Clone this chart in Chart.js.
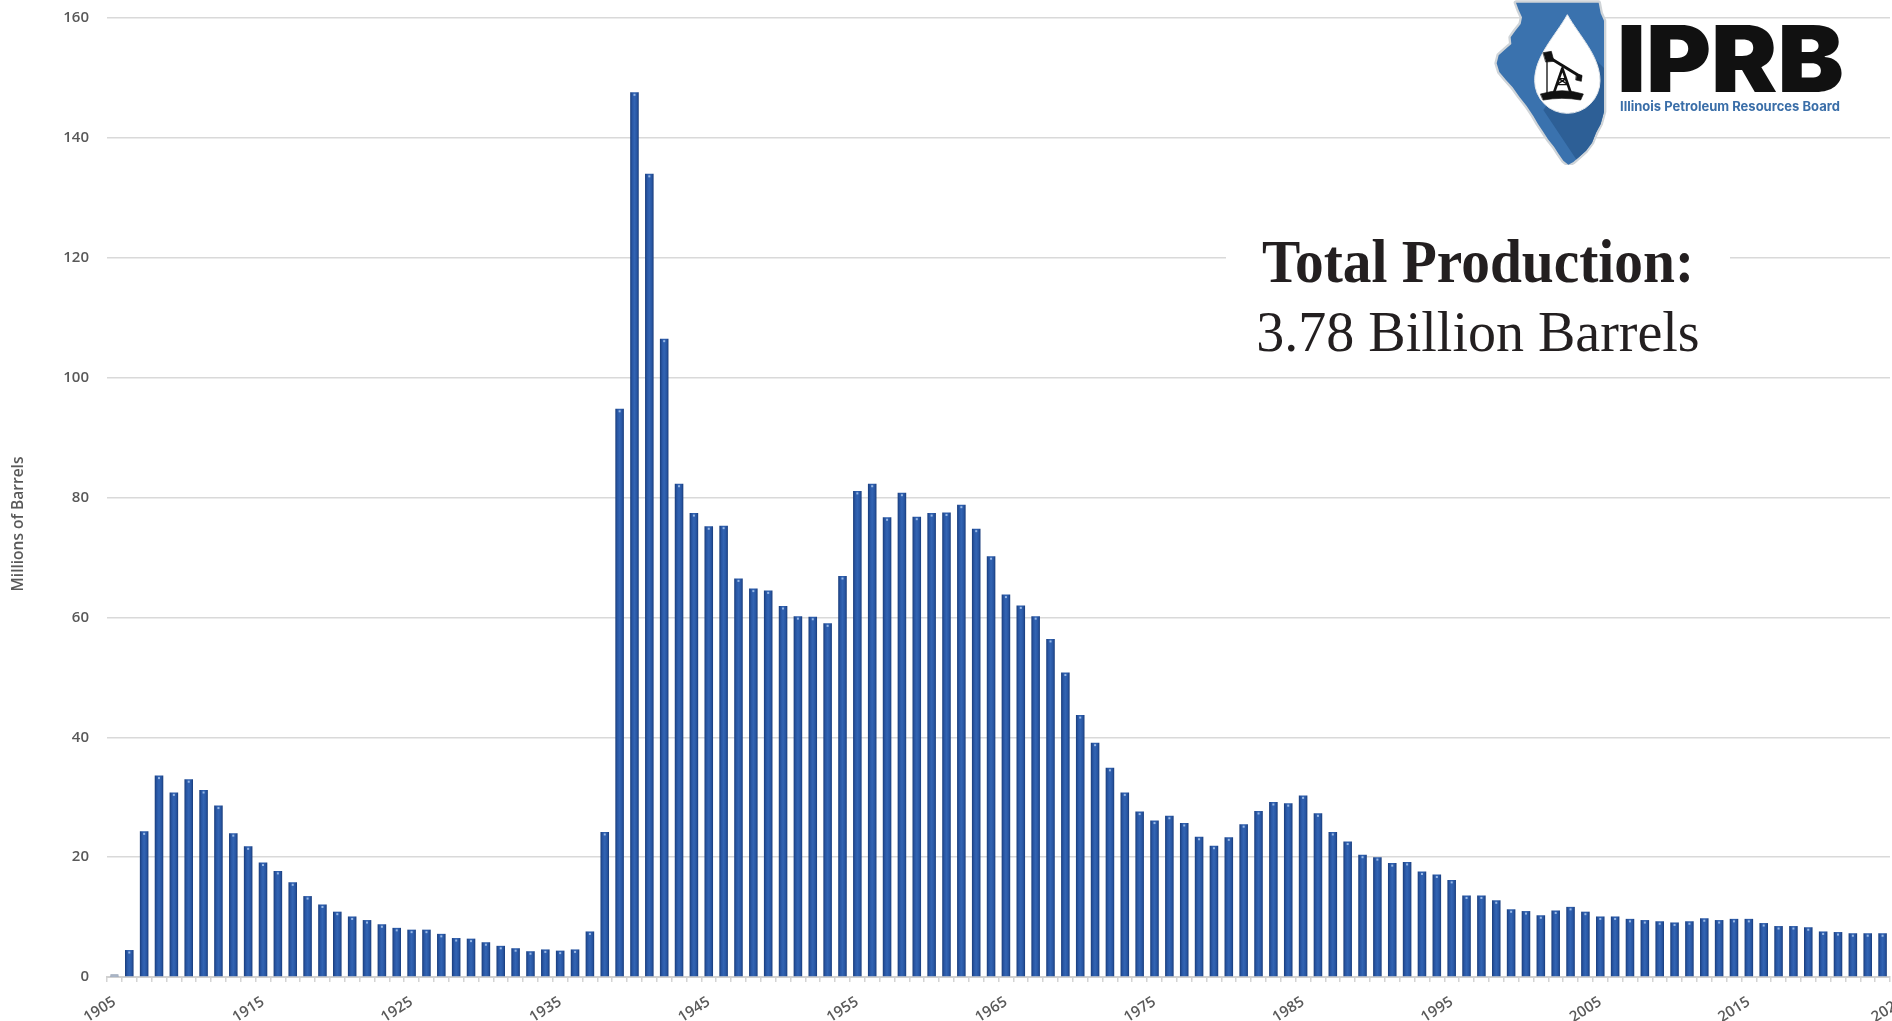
<!DOCTYPE html>
<html>
<head>
<meta charset="utf-8">
<script src="https://cdn.jsdelivr.net/npm/chart.js@4.4.1/dist/chart.umd.min.js"></script>
<style>
html,body{margin:0;padding:0;background:#fff;overflow:hidden}
#wrap{position:relative;width:1892px;height:1021px}
#c{display:block;width:1892px;height:1021px}
#logo{position:absolute;left:1480px;top:0;width:140px;height:165px}
</style>
</head>
<body>
<div id="wrap">
<canvas id="c" width="1892" height="1021"></canvas>
<svg id="logo" viewBox="0 0 420 495" xmlns="http://www.w3.org/2000/svg">
  <defs>
    <clipPath id="ilclip">
      <path id="ilpath" d="M108,8 L356,8 L362,40 L372,62 L372,335 L362,372 L348,398 L336,428 L318,452 L298,470 L280,486 L265,494 L250,482 L236,462 L222,440 L204,418 L190,396 L174,372 L160,348 L140,318 L118,290 L98,262 L78,240 L58,216 L50,190 L56,166 L76,148 L94,132 L92,112 L106,92 L122,72 L126,52 L116,30 Z"/>
    </clipPath>
  </defs>
  <use href="#ilpath" fill="none" stroke="#cfd4d8" stroke-width="14" stroke-linejoin="round"/>
  <use href="#ilpath" fill="#3a72ae"/>
  <g clip-path="url(#ilclip)">
    <path d="M318,150 L420,252 L420,495 L300,495 L190,330 Z" fill="#2d5f96"/>
  </g>
  <path d="M262,44 C298,108 360,168 360,242 A98,98 0 1 1 164,242 C164,168 226,108 262,44 Z" fill="#ffffff" stroke="#e4e8ec" stroke-width="3"/>
  <g fill="#111" stroke="#111" stroke-linecap="round" stroke-linejoin="round">
    <path d="M182,282 Q246,262 310,282 L302,300 Q246,290 190,300 Z" stroke-width="2"/>
    <path d="M222,278 L247,205 L272,278" fill="none" stroke-width="8"/>
    <path d="M230,254 L264,254 M236,236 L258,236 M230,254 L258,236 M264,254 L236,236" fill="none" stroke-width="4"/>
    <path d="M204,170 L302,230" fill="none" stroke-width="9"/>
    <path d="M190,158 L214,154 L222,184 L198,186 Z" stroke-width="2"/>
    <path d="M201,186 L201,282" fill="none" stroke-width="4"/>
    <path d="M290,222 L306,226 L304,244 L288,240 Z" stroke-width="2"/>
  </g>
</svg>
</div>
<script>
const years = ['1905','1906','1907','1908','1909','1910','1911','1912','1913','1914',
'1915','1916','1917','1918','1919','1920','1921','1922','1923','1924',
'1925','1926','1927','1928','1929','1930','1931','1932','1933','1934',
'1935','1936','1937','1938','1939','1940','1941','1942','1943','1944',
'1945','1946','1947','1948','1949','1950','1951','1952','1953','1954',
'1955','1956','1957','1958','1959','1960','1961','1962','1963','1964',
'1965','1966','1967','1968','1969','1970','1971','1972','1973','1974',
'1975','1976','1977','1978','1979','1980','1981','1982','1983','1984',
'1985','1986','1987','1988','1989','1990','1991','1992','1993','1994',
'1995','1996','1997','1998','1999','2000','2001','2002','2003','2004',
'2005','2006','2007','2008','2009','2010','2011','2012','2013','2014',
'2015','2016','2017','2018','2019','2020','2021','2022','2023','2024'];

// Millions of barrels per year
const production = [0.2,4.5,24.3,33.6,30.8,33.0,31.2,28.6,24.0,21.8,
19.1,17.7,15.8,13.5,12.1,10.9,10.1,9.5,8.8,8.2,
7.9,7.9,7.2,6.5,6.4,5.8,5.2,4.8,4.3,4.6,
4.4,4.6,7.6,24.2,94.8,147.6,134.0,106.5,82.3,77.4,
75.2,75.3,66.5,64.8,64.5,61.9,60.2,60.1,59.0,66.9,
81.1,82.3,76.7,80.8,76.8,77.4,77.5,78.8,74.8,70.2,
63.8,62.0,60.2,56.4,50.8,43.7,39.1,34.9,30.8,27.6,
26.1,26.9,25.7,23.4,21.9,23.3,25.5,27.7,29.2,29.0,
30.3,27.3,24.2,22.6,20.4,20.0,19.0,19.2,17.6,17.1,
16.2,13.6,13.6,12.8,11.3,11.0,10.3,11.1,11.7,10.9,
10.1,10.1,9.7,9.5,9.3,9.1,9.3,9.8,9.5,9.7,
9.7,9.0,8.5,8.5,8.3,7.6,7.5,7.3,7.3,7.3];

const tickLabels = ['1905','1915','1925','1935','1945','1955','1965','1975','1985','1995','2005','2015','2025'];
const yTicks = [0,20,40,60,80,100,120,140,160];
const yTitle = 'Millions of Barrels';
const headline = 'Total Production:';
const subline = '3.78 Billion Barrels';
const logoText = 'IPRB';
const logoSub = 'Illinois Petroleum Resources Board';

const BAR_PCT = 0.72, CAT_PCT = 0.8;
const TICK_FONT = {family:'"Open Sans", "Noto Sans", sans-serif', size:15, weight:'600'};
const TICK_COLOR = '#595959';
const X_ROT = 32, X_TICKLEN = 5, X_PAD = 11;

function barFill(ctx){
  const chart = ctx.chart;
  const xs = chart.scales && chart.scales.x;
  if (!xs || ctx.dataIndex === undefined || !chart.chartArea) return '#2a5aa8';
  const cx = xs.getPixelForValue(ctx.dataIndex);
  const w = (xs.width / years.length) * BAR_PCT * CAT_PCT;
  const g = chart.ctx.createLinearGradient(cx - w/2, 0, cx + w/2, 0);
  g.addColorStop(0, '#193c7a');
  g.addColorStop(0.25, '#2957a5');
  g.addColorStop(0.5, '#3264b3');
  g.addColorStop(0.78, '#2856a3');
  g.addColorStop(1, '#193c7a');
  return g;
}

const decor = {
  id:'decor',
  beforeDatasetsDraw(chart){
    const c = chart.ctx;
    c.save();
    c.fillStyle = '#ffffff';
    c.fillRect(1226, 226, 504, 138);
    c.restore();
  },
  afterDatasetsDraw(chart){
    const c = chart.ctx;
    const meta = chart.getDatasetMeta(0);
    c.save();
    c.fillStyle = 'rgba(170,200,240,0.85)';
    meta.data.forEach(el => {
      if (el.base - el.y > 4) c.fillRect(el.x - 1, el.y + 1.5, 2, 2);
      else if (el.base - el.y > 0) { c.fillStyle = '#9aa6b8'; c.fillRect(el.x - 4, el.base - 2, 8, 1.5); c.fillStyle = 'rgba(170,200,240,0.85)'; }
    });
    c.restore();
  },
  afterDraw(chart){
    const c = chart.ctx;
    const xs = chart.scales.x;
    c.save();
    // extra decade label beyond the last category (cut by the edge)
    c.font = TICK_FONT.weight + ' ' + TICK_FONT.size + 'px ' + TICK_FONT.family;
    c.fillStyle = TICK_COLOR;
    const lh = TICK_FONT.size * 1.2;
    tickLabels.forEach(lbl => {
      if (years.indexOf(lbl) >= 0) return;
      const idx = parseInt(lbl,10) - parseInt(years[0],10);
      const px = xs.getPixelForValue(idx);
      c.save();
      c.translate(px, xs.top + X_TICKLEN + X_PAD);
      c.rotate(-X_ROT * Math.PI / 180);
      c.textAlign = 'right';
      c.textBaseline = 'middle';
      c.fillText(lbl, 0, lh / 2);
      c.restore();
    });
    // y axis title
    c.save();
    c.translate(18.5, 524);
    c.rotate(-Math.PI / 2);
    c.textAlign = 'center';
    c.textBaseline = 'middle';
    c.font = '600 15.5px "Open Sans", "Noto Sans", sans-serif';
    c.fillStyle = TICK_COLOR;
    c.fillText(yTitle, 0, 0);
    c.restore();
    // headline
    c.fillStyle = '#231f20';
    c.textAlign = 'center';
    c.textBaseline = 'alphabetic';
    c.font = 'bold 62px "Liberation Serif", "DejaVu Serif", serif';
    c.fillText(headline, 1478, 282, 432);
    c.font = '56px "Liberation Serif", "DejaVu Serif", serif';
    c.fillText(subline, 1478, 351, 444);
    // logo text
    c.textAlign = 'left';
    c.fillStyle = '#111111';
    c.font = '900 92px Inter, "Open Sans", sans-serif';
    c.save();
    c.translate(1617, 92);
    c.scale(1.08, 1);
    c.fillText(logoText, 0, 0);
    c.restore();
    c.fillStyle = '#3a6ea8';
    c.font = 'bold 13px Inter, "Open Sans", sans-serif';
    c.fillText(logoSub, 1620, 111, 220);
    c.restore();
  }
};

new Chart(document.getElementById('c'), {
  type:'bar',
  data:{
    labels: years,
    datasets:[{
      data: production,
      backgroundColor: barFill,
      borderWidth: 0,
      barPercentage: BAR_PCT,
      categoryPercentage: CAT_PCT
    }]
  },
  options:{
    responsive:false,
    animation:false,
    devicePixelRatio:1,
    layout:{padding:{top:18, right:2, left:0, bottom:0}},
    plugins:{legend:{display:false}, tooltip:{enabled:false}, title:{display:false}},
    scales:{
      x:{
        grid:{display:true, drawOnChartArea:false, drawTicks:true, tickLength:X_TICKLEN, color:'#d4d4d4', lineWidth:1.5, offset:true},
        border:{display:true, color:'#d0d0d0', width:2},
        ticks:{
          autoSkip:false, maxRotation:X_ROT, minRotation:X_ROT, padding:X_PAD,
          color:TICK_COLOR, font:TICK_FONT,
          callback(v, i){ const y = years[i]; return tickLabels.includes(y) ? y : ''; }
        },
        afterFit(s){ s.height = 44; s.paddingLeft = 0; s.paddingRight = 0; }
      },
      y:{
        min:0, max:160,
        grid:{color:'#d9d9d9', lineWidth:1.5, drawTicks:false},
        border:{display:false},
        ticks:{padding:18, color:TICK_COLOR, font:TICK_FONT},
        afterBuildTicks(s){ s.ticks = yTicks.map(v => ({value:v})); },
        afterFit(s){ s.width = 107; s.paddingTop = 0; s.paddingBottom = 0; }
      }
    }
  },
  plugins:[decor]
});
</script>
</body>
</html>
